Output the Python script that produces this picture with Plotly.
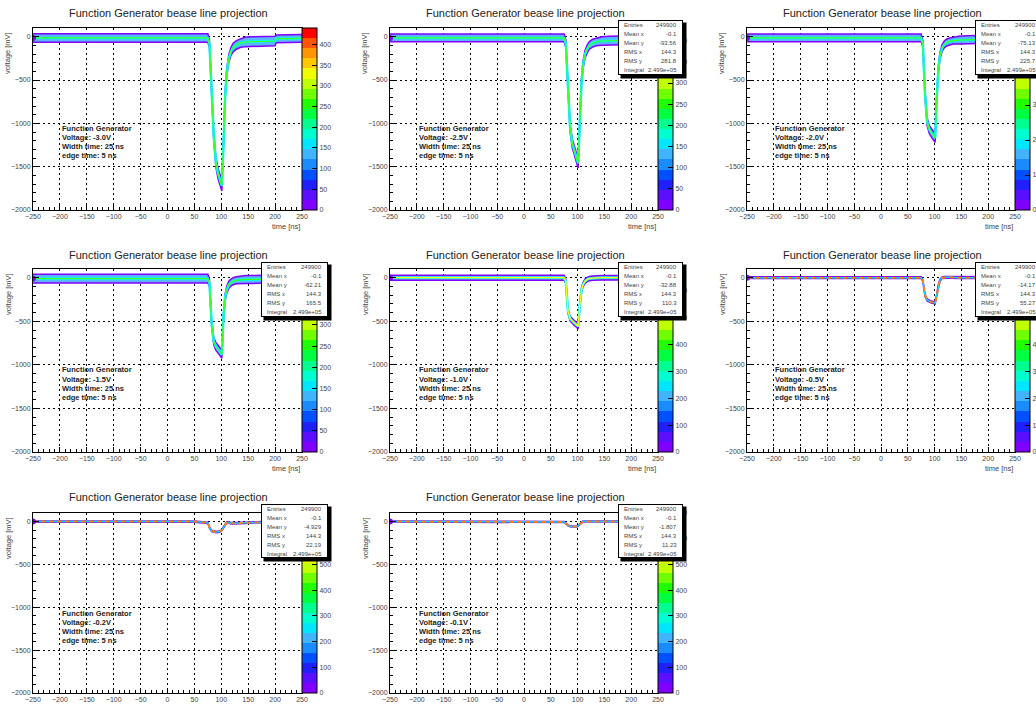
import plotly.graph_objects as go

W, H = 1036, 704
FONT = "Liberation Sans, Arial, sans-serif"

# ---------------- data ----------------
time_ns = [-250, -200, -150, -100, -50, 0, 50, 75, 78, 82, 86, 90, 94, 98, 101, 104, 107,
           110, 114, 118, 122, 128, 135, 145, 160, 180, 200, 202, 225, 250]

volt_m30 = [-15, -15, -15, -15, -15, -15, -15, -15, -80, -600, -1150, -1450, -1580, -1660, -1720,
            -1250, -700, -420, -250, -170, -125, -95, -75, -60, -55, -50, -50, -25, -20, -20]
spread_m30 = [50, 50, 50, 50, 50, 50, 50, 50, 45, 45, 50, 55, 60, 60, 60, 50, 45, 45, 45, 45,
              50, 50, 50, 55, 55, 55, 55, 45, 45, 45]

volt_m25 = [-15, -15, -15, -15, -15, -15, -15, -15, -80, -650, -1050, -1230, -1320, -1400, -1460,
            -1000, -560, -330, -200, -140, -100, -75, -60, -50, -45, -40, -40, -20, -15, -15]
spread_m25 = [45, 45, 45, 45, 45, 45, 45, 45, 45, 45, 45, 50, 55, 55, 55, 50, 45, 45, 45, 45,
              45, 45, 45, 50, 50, 50, 50, 40, 40, 40]

volt_m20 = [-15, -15, -15, -15, -15, -15, -15, -15, -80, -650, -980, -1070, -1110, -1140, -1170,
            -700, -380, -220, -130, -90, -70, -55, -45, -40, -35, -30, -30, -15, -10, -10]
spread_m20 = [45, 45, 45, 45, 45, 45, 45, 45, 40, 40, 45, 45, 50, 50, 50, 45, 40, 40, 40, 40,
              40, 40, 40, 45, 45, 45, 45, 40, 40, 40]

volt_m15 = [-10, -10, -10, -10, -10, -10, -10, -10, -60, -520, -730, -790, -820, -850, -880,
            -450, -230, -140, -80, -55, -40, -30, -25, -20, -20, -15, -15, -10, -10, -10]
spread_m15 = [50, 50, 50, 50, 50, 50, 50, 50, 40, 40, 40, 45, 45, 45, 45, 40, 40, 40, 40, 40,
              40, 40, 40, 45, 45, 45, 45, 40, 40, 40]

volt_m10 = [0, 0, 0, 0, 0, 0, 0, 0, -40, -380, -470, -500, -520, -540, -560,
            -320, -150, -80, -40, -20, -10, -5, 0, 0, 0, 0, 0, 0, 0, 0]
spread_m10 = [28, 28, 28, 28, 28, 28, 28, 28, 25, 25, 25, 28, 28, 28, 28, 25, 25, 25, 25, 25,
              25, 25, 25, 25, 25, 25, 25, 25, 25, 25]

volt_m05 = [0, 0, 0, 0, 0, 0, 0, 0, -30, -200, -255, -270, -280, -285, -290,
            -200, -90, -30, 0, 5, 5, 5, 0, 0, 0, 0, 0, 0, 0, 0]
spread_m05 = [10, 10, 10, 10, 10, 10, 10, 10, 10, 12, 12, 12, 12, 12, 12, 12, 12, 10, 10, 10,
              10, 10, 10, 10, 10, 10, 10, 10, 10, 10]

volt_m02 = [0, 0, 0, 0, 0, 0, 0, -15, -70, -110, -120, -122, -120, -115, -100,
            -70, -35, -10, -10, -20, -20, -20, -15, -15, -10, -5, 0, 0, 0, 0]
spread_m02 = [8, 8, 8, 8, 8, 8, 8, 8, 8, 8, 8, 8, 8, 8, 8, 8, 8, 8, 8, 8,
              8, 8, 8, 8, 8, 8, 8, 8, 8, 8]

volt_m01 = [0, 0, 0, 0, 0, 0, 0, -5, -20, -45, -55, -60, -60, -58, -50,
            -30, -10, 0, 0, 0, 0, 0, 0, 0, 0, 0, 0, 0, 0, 0]
spread_m01 = [6, 6, 6, 6, 6, 6, 6, 6, 6, 6, 6, 6, 6, 6, 6, 6, 6, 6, 6, 6,
              6, 6, 6, 6, 6, 6, 6, 6, 6, 6]

generator_voltage = ["-3.0V", "-2.5V", "-2.0V", "-1.5V", "-1.0V", "-0.5V", "-0.2V", "-0.1V"]
entries = ["", "249900", "249900", "249900", "249900", "249900", "249900", "249900"]
mean_x = ["", "-0.1", "-0.1", "-0.1", "-0.1", "-0.1", "-0.1", "-0.1"]
mean_y = ["", "-93.56", "-75.13", "-62.21", "-32.88", "-14.17", "-4.929", "-1.807"]
rms_x = ["", "144.3", "144.3", "144.3", "144.3", "144.3", "144.3", "144.3"]
rms_y = ["", "281.8", "225.7", "165.5", "110.3", "55.27", "22.19", "11.23"]
integral = ["", "2.499e+05", "2.499e+05", "2.499e+05", "2.499e+05", "2.499e+05", "2.499e+05", "2.499e+05"]
count_max = [440, 430, 520, 432, 680, 680, 700, 700]
count_step = [50, 50, 100, 50, 100, 100, 100, 100]

x_ticks = [-250, -200, -150, -100, -50, 0, 50, 100, 150, 200, 250]
y_ticks = [-2000, -1500, -1000, -500, 0]

waveforms = [volt_m30, volt_m25, volt_m20, volt_m15, volt_m10, volt_m05, volt_m02, volt_m01]
spreads = [spread_m30, spread_m25, spread_m20, spread_m15, spread_m10, spread_m05, spread_m02, spread_m01]

# ---------------- styling ----------------
palette = ['#8000ff', '#5a10ff', '#2020ff', '#0050ff', '#1a8cff', '#40b4ff', '#00e6ff', '#00ffd0',
           '#00ff90', '#00ff40', '#20ff00', '#70ff00', '#c0ff00', '#f0ff00', '#ffc800', '#ff9600',
           '#ff5500', '#ff0000']
n = len(palette)
colorscale = []
for i, c in enumerate(palette):
    colorscale.append([i / n, c])
    colorscale.append([(i + 1) / n, c])

core_color = ['#40ff20', '#40ff20', '#40ff20', '#40ff20', '#ffff00', '#ff8000', '#ff8000', '#ff8000']
col_px = [(33, 302), (390, 658), (747, 1015)]
row_px = [(28, 210), (269, 452), (513, 693)]
title_y = [13, 255, 497]
title_x = [168, 525, 882]
stats_x = [(261, 328), (618, 683), (975, 1042)]
stats_y = [(20, 75), (262, 317), (504, 558)]
text_x = [60, 417, 773]
text_y = [128, 370, 613]


def px(x):
    return x / W


def py(y):
    return 1 - y / H


fig = go.Figure()
annotations = []
layout = {}

for k in range(8):
    r, c = divmod(k, 3)
    sfx = '' if k == 0 else str(k + 1)
    xa, ya = 'x' + sfx, 'y' + sfx
    mid = waveforms[k]
    sp = spreads[k]
    upper = [m + s for m, s in zip(mid, sp)]
    lower = [m - s for m, s in zip(mid, sp)]
    thin = k >= 5
    fig.add_trace(go.Scatter(x=time_ns, y=upper, xaxis=xa, yaxis=ya, mode='lines',
                             line=dict(color='#8000ff', width=1.5), showlegend=False, hoverinfo='skip'))
    fig.add_trace(go.Scatter(x=time_ns, y=lower, xaxis=xa, yaxis=ya, mode='lines',
                             line=dict(color='#8000ff', width=1.5), fill='tonexty',
                             fillcolor='#5ab4ff', showlegend=False, hoverinfo='skip'))
    if not thin:
        fig.add_trace(go.Scatter(x=time_ns, y=mid, xaxis=xa, yaxis=ya, mode='lines',
                                 line=dict(color='#00ffff', width=2.5), showlegend=False, hoverinfo='skip'))
        fig.add_trace(go.Scatter(x=time_ns, y=mid, xaxis=xa, yaxis=ya, mode='lines',
                                 line=dict(color=core_color[k], width=1.2), showlegend=False, hoverinfo='skip'))
    else:
        fig.add_trace(go.Scatter(x=time_ns, y=mid, xaxis=xa, yaxis=ya, mode='lines',
                                 line=dict(color='#00e0ff', width=1.5), showlegend=False, hoverinfo='skip'))
        fig.add_trace(go.Scatter(x=time_ns, y=mid, xaxis=xa, yaxis=ya, mode='lines',
                                 line=dict(color=core_color[k], width=2, dash='4px,4px'),
                                 showlegend=False, hoverinfo='skip'))
    # colour scale holder
    fig.add_trace(go.Scatter(x=[time_ns[0]], y=[mid[0]], xaxis=xa, yaxis=ya, mode='markers',
                             marker=dict(size=0, color=[0], coloraxis='coloraxis' + sfx),
                             showlegend=False, hoverinfo='skip'))

    x0, x1 = col_px[c]
    y0, y1 = row_px[r]
    axis_common = dict(showline=True, mirror=True, linecolor='black', linewidth=1,
                       showgrid=True, gridcolor='black', griddash='2px,3px', gridwidth=1,
                       zeroline=False, ticks='inside', tickcolor='black',
                       tickfont=dict(size=7, color='#444', family=FONT), fixedrange=True)
    layout['xaxis' + sfx] = dict(domain=[px(x0), px(x1)], range=[-250, 250], anchor=ya,
                                 tickmode='array', tickvals=x_ticks, ticklen=5,
                                 minor=dict(tickmode='linear', tick0=0, dtick=10, ticks='inside',
                                            ticklen=3, tickcolor='black', showgrid=False),
                                 **axis_common)
    layout['yaxis' + sfx] = dict(domain=[py(y1), py(y0)], range=[-2000, 100], anchor=xa,
                                 tickmode='array', tickvals=y_ticks, ticklen=6,
                                 minor=dict(tickmode='linear', tick0=0, dtick=100, ticks='inside',
                                            ticklen=3, tickcolor='black', showgrid=False),
                                 **axis_common)
    layout['coloraxis' + sfx] = dict(
        cmin=0, cmax=count_max[k], colorscale=colorscale,
        colorbar=dict(x=px(x1), xanchor='left', xpad=0, y=py(y0), yanchor='top', ypad=0,
                      len=(y1 - y0) / H, lenmode='fraction', thickness=15, thicknessmode='pixels',
                      outlinewidth=1, outlinecolor='black', ticks='inside', ticklen=5,
                      tickcolor='black', tickmode='linear', tick0=0, dtick=count_step[k],
                      tickfont=dict(size=7, color='#444', family=FONT)))

    # title
    annotations.append(dict(text='Function Generator bease line projection', x=px(title_x[c]),
                            y=py(title_y[r]), xref='paper', yref='paper', showarrow=False,
                            xanchor='center', yanchor='middle',
                            font=dict(size=11, color='#222', family=FONT)))
    # axis titles
    annotations.append(dict(text='voltage [mV]', x=px(x0 - 25), y=py(y0 + 2), xref='paper',
                            yref='paper', showarrow=False, textangle=-90, xanchor='center',
                            yanchor='top', font=dict(size=7.5, color='#444', family=FONT)))
    annotations.append(dict(text='time [ns]', x=px(x1), y=py(y1 + 10), xref='paper',
                            yref='paper', showarrow=False, xanchor='right', yanchor='top',
                            font=dict(size=7.5, color='#444', family=FONT)))
    # generator text
    lines = ['Function Generator', 'Voltage: ' + generator_voltage[k], 'Width time: 25 ns',
             'edge time: 5 ns']
    for j, t in enumerate(lines):
        annotations.append(dict(text='<b>' + t + '</b>', x=px(text_x[c]), y=py(text_y[r] + 9 * j),
                                xref='paper', yref='paper', showarrow=False, xanchor='left',
                                yanchor='middle', font=dict(size=7.5, color='#222', family=FONT)))
    # stats box
    if entries[k]:
        sx0, sx1 = stats_x[c]
        sy0, sy1 = stats_y[r]
        annotations.append(dict(text=' ', x=px(sx0 + 2), y=py(sy0 + 2), xref='paper', yref='paper',
                                showarrow=False, xanchor='left', yanchor='top', width=sx1 - sx0,
                                height=sy1 - sy0, bgcolor='black', borderpad=0,
                                font=dict(size=1)))
        annotations.append(dict(text=' ', x=px(sx0), y=py(sy0), xref='paper', yref='paper',
                                showarrow=False, xanchor='left', yanchor='top', width=sx1 - sx0 - 2,
                                height=sy1 - sy0 - 2, bgcolor='white', bordercolor='black',
                                borderwidth=1, borderpad=0, font=dict(size=1)))
        labels = ['Entries', 'Mean x', 'Mean y', 'RMS x', 'RMS y', 'Integral']
        values = [entries[k], mean_x[k], mean_y[k], rms_x[k], rms_y[k], integral[k]]
        rowh = (sy1 - sy0) / 6
        for j in range(6):
            yy = py(sy0 + rowh * (j + 0.5))
            annotations.append(dict(text=labels[j], x=px(sx0 + 4), y=yy, xref='paper', yref='paper',
                                    showarrow=False, xanchor='left', yanchor='middle',
                                    font=dict(size=6, color='#444', family=FONT)))
            annotations.append(dict(text=values[j], x=px(sx1 - 4), y=yy, xref='paper',
                                    yref='paper', showarrow=False, xanchor='right',
                                    yanchor='middle', font=dict(size=6, color='#444', family=FONT)))

fig.update_layout(width=W, height=H, margin=dict(l=0, r=0, t=0, b=0, autoexpand=False),
                  paper_bgcolor='white', plot_bgcolor='white', showlegend=False,
                  font=dict(family=FONT), annotations=annotations, **layout)

fig.write_html("out.html", include_plotlyjs=True, config={'displayModeBar': False},
               post_script="document.body.style.margin='0';document.body.style.overflow='hidden';")
